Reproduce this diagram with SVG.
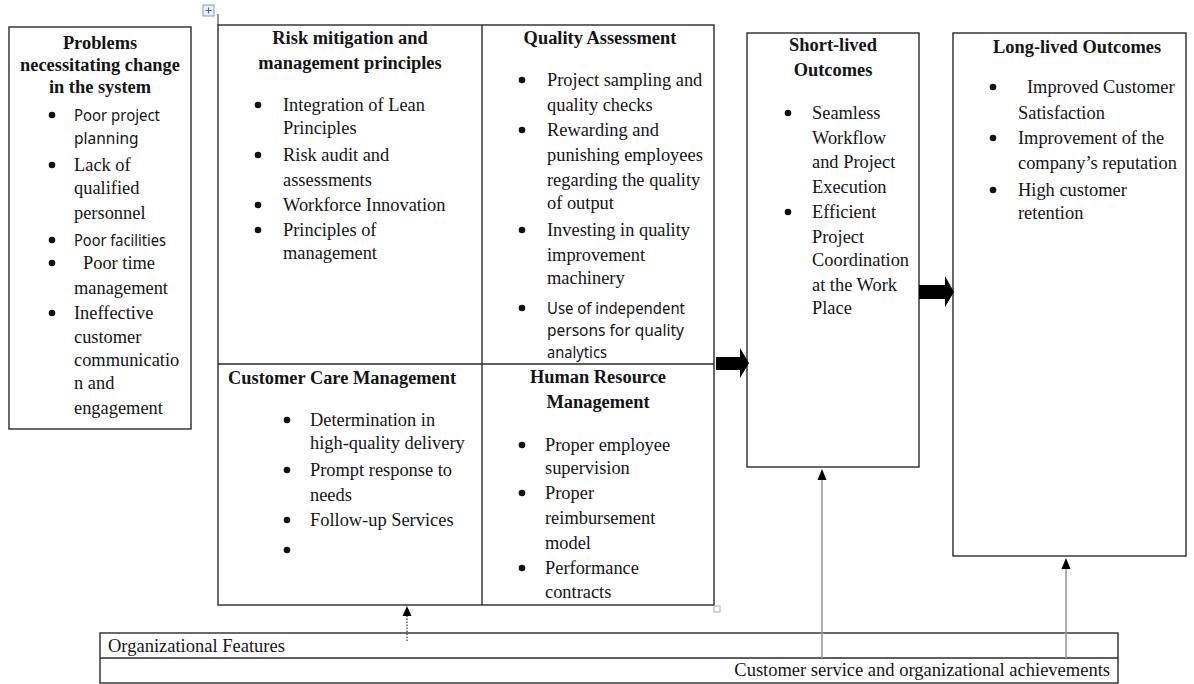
<svg xmlns="http://www.w3.org/2000/svg" width="1194" height="684" viewBox="0 0 1194 684">
<style>
.box{fill:none;stroke:#2a2a2a;stroke-width:1.4}
.t{font-family:"Liberation Serif","Times New Roman",serif;font-size:18.4px;fill:#141414}
.h{font-family:"Liberation Serif","Times New Roman",serif;font-size:18.4px;font-weight:bold;fill:#141414}
.s{font-family:"Noto Sans","Open Sans",sans-serif;font-size:15.5px;fill:#141414}
.m{text-anchor:middle}
.b{fill:#111}
.small{font-family:"Liberation Serif","Times New Roman",serif;font-size:18.5px;fill:#141414}
.gray{stroke:#9a9a9a;stroke-width:1.6;fill:none}
</style>
<rect width="1194" height="684" fill="#ffffff"/>

<g id="move-handle">
<rect x="203" y="5" width="11" height="11" fill="#e8f0fa" stroke="#7f9dc4" stroke-width="1"/>
<path d="M208.5 7.5v6M205.5 10.5h6" stroke="#3b6fb0" stroke-width="1"/>
<line x1="218" y1="14" x2="218" y2="25" stroke="#2a2a2a" stroke-width="1"/>
</g>

<g id="problems">
<rect class="box" x="9" y="27" width="182" height="402"/>
<text class="h m" x="100" y="49">Problems</text>
<text class="h m" x="100" y="71">necessitating change</text>
<text class="h m" x="100" y="93">in the system</text>
<circle class="b" cx="52" cy="115" r="3.3"/>
<text class="s" x="74" y="121" textLength="86" lengthAdjust="spacingAndGlyphs">Poor project</text>
<text class="s" x="74" y="144">planning</text>
<circle class="b" cx="52" cy="165" r="3.3"/>
<text class="t" x="74" y="171">Lack of</text>
<text class="t" x="74" y="194">qualified</text>
<text class="t" x="74" y="219">personnel</text>
<circle class="b" cx="52" cy="240" r="3.3"/>
<text class="s" x="74" y="246" textLength="92" lengthAdjust="spacingAndGlyphs">Poor facilities</text>
<circle class="b" cx="52" cy="263" r="3.3"/>
<text class="t" x="83" y="269">Poor time</text>
<text class="t" x="74" y="294">management</text>
<circle class="b" cx="52" cy="313" r="3.3"/>
<text class="t" x="74" y="319">Ineffective</text>
<text class="t" x="74" y="343">customer</text>
<text class="t" x="74" y="366">communicatio</text>
<text class="t" x="74" y="389">n and</text>
<text class="t" x="74" y="414">engagement</text>
</g>

<g id="grid-frame">
<rect class="box" x="218" y="25" width="496" height="580"/>
<line class="box" x1="482" y1="25" x2="482" y2="605"/>
<line class="box" x1="218" y1="364" x2="714" y2="364"/>
<rect x="714" y="606" width="6" height="6" fill="none" stroke="#aaaaaa" stroke-width="1"/>
</g>

<g id="risk-mitigation">
<text class="h m" x="350" y="44">Risk mitigation  and</text>
<text class="h m" x="350" y="69">management principles</text>
<circle class="b" cx="258" cy="105" r="3.3"/>
<text class="t" x="283" y="111">Integration of Lean</text>
<text class="t" x="283" y="134">Principles</text>
<circle class="b" cx="258" cy="155" r="3.3"/>
<text class="t" x="283" y="161">Risk audit and</text>
<text class="t" x="283" y="186">assessments</text>
<circle class="b" cx="258" cy="205" r="3.3"/>
<text class="t" x="283" y="211">Workforce Innovation</text>
<circle class="b" cx="258" cy="230" r="3.3"/>
<text class="t" x="283" y="236">Principles  of</text>
<text class="t" x="283" y="259">management</text>
</g>

<g id="quality-assessment">
<text class="h m" x="600" y="44">Quality Assessment</text>
<circle class="b" cx="522" cy="80" r="3.3"/>
<text class="t" x="547" y="86">Project sampling and</text>
<text class="t" x="547" y="111">quality checks</text>
<circle class="b" cx="522" cy="130" r="3.3"/>
<text class="t" x="547" y="136">Rewarding and</text>
<text class="t" x="547" y="161">punishing employees</text>
<text class="t" x="547" y="186">regarding the quality</text>
<text class="t" x="547" y="209">of output</text>
<circle class="b" cx="522" cy="230" r="3.3"/>
<text class="t" x="547" y="236">Investing in quality</text>
<text class="t" x="547" y="261">improvement</text>
<text class="t" x="547" y="284">machinery</text>
<circle class="b" cx="522" cy="308" r="3.3"/>
<text class="s" x="547" y="314" textLength="138" lengthAdjust="spacingAndGlyphs">Use of independent</text>
<text class="s" x="547" y="336" textLength="137" lengthAdjust="spacingAndGlyphs">persons for quality</text>
<text class="s" x="547" y="358" textLength="60" lengthAdjust="spacingAndGlyphs">analytics</text>
</g>

<g id="customer-care">
<text class="h" x="228" y="384">Customer Care Management</text>
<circle class="b" cx="287" cy="420" r="3.3"/>
<text class="t" x="310" y="426">Determination in</text>
<text class="t" x="310" y="449">high-quality delivery</text>
<circle class="b" cx="287" cy="470" r="3.3"/>
<text class="t" x="310" y="476">Prompt response to</text>
<text class="t" x="310" y="501">needs</text>
<circle class="b" cx="287" cy="520" r="3.3"/>
<text class="t" x="310" y="526">Follow-up Services</text>
<circle class="b" cx="287" cy="550" r="3.3"/>
</g>

<g id="human-resource">
<text class="h m" x="598" y="383">Human Resource</text>
<text class="h m" x="598" y="408">Management</text>
<circle class="b" cx="522" cy="445" r="3.3"/>
<text class="t" x="545" y="451">Proper employee</text>
<text class="t" x="545" y="474">supervision</text>
<circle class="b" cx="522" cy="493" r="3.3"/>
<text class="t" x="545" y="499">Proper</text>
<text class="t" x="545" y="524">reimbursement</text>
<text class="t" x="545" y="549">model</text>
<circle class="b" cx="522" cy="568" r="3.3"/>
<text class="t" x="545" y="574">Performance</text>
<text class="t" x="545" y="598">contracts</text>
</g>

<g id="short-lived">
<rect class="box" x="747" y="33" width="172" height="434"/>
<text class="h m" x="833" y="51">Short-lived</text>
<text class="h m" x="833" y="76">Outcomes</text>
<circle class="b" cx="788" cy="113" r="3.3"/>
<text class="t" x="812" y="119">Seamless</text>
<text class="t" x="812" y="144">Workflow</text>
<text class="t" x="812" y="168">and Project</text>
<text class="t" x="812" y="193">Execution</text>
<circle class="b" cx="788" cy="212" r="3.3"/>
<text class="t" x="812" y="218">Efficient</text>
<text class="t" x="812" y="243">Project</text>
<text class="t" x="812" y="266">Coordination</text>
<text class="t" x="812" y="291">at the Work</text>
<text class="t" x="812" y="314">Place</text>
</g>

<g id="long-lived">
<rect class="box" x="953" y="33" width="233" height="523"/>
<text class="h" x="993" y="53">Long-lived Outcomes</text>
<circle class="b" cx="993" cy="87" r="3.3"/>
<text class="t" x="1027" y="93">Improved Customer</text>
<text class="t" x="1018" y="119">Satisfaction</text>
<circle class="b" cx="993" cy="138" r="3.3"/>
<text class="t" x="1018" y="144">Improvement of the</text>
<text class="t" x="1018" y="169">company’s reputation</text>
<circle class="b" cx="993" cy="190" r="3.3"/>
<text class="t" x="1018" y="196">High customer</text>
<text class="t" x="1018" y="219">retention</text>
</g>

<g id="org-bar">
<rect class="box" x="100" y="633" width="1018" height="50"/>
<line class="box" x1="100" y1="658" x2="1118" y2="658"/>
<text class="small" x="108" y="652">Organizational Features</text>
<text class="small" x="1110" y="676" text-anchor="end">Customer service and organizational achievements</text>
</g>

<g id="connectors">
<polygon fill="#000" points="716,357 740,357 740,348 749,363 740,378 740,370 716,370"/>
<polygon fill="#000" points="919,285 945,285 945,276 954,292 945,307 945,299 919,299"/>
<line x1="407" y1="641" x2="407" y2="615" stroke="#333" stroke-width="1.2" stroke-dasharray="1.5,1.5"/>
<polygon fill="#000" points="407,606 402.5,616 411.5,616"/>
<line class="gray" x1="822" y1="658" x2="822" y2="478"/>
<polygon fill="#000" points="822,469 817.5,480 826.5,480"/>
<line class="gray" x1="1066" y1="658" x2="1066" y2="567"/>
<polygon fill="#000" points="1066,558 1061.5,569 1070.5,569"/>
</g>
</svg>
